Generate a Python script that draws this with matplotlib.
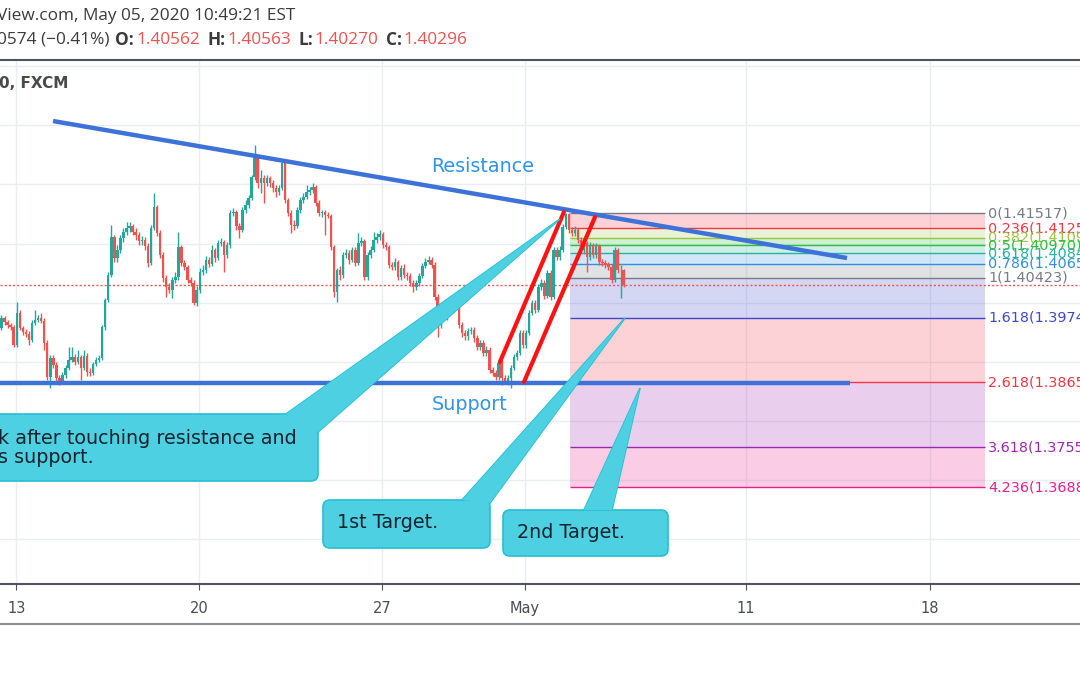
import matplotlib.pyplot as plt
import numpy as np
from matplotlib.patches import FancyBboxPatch, Polygon

# USDCAD, 2h candles (FXCM), 13 Apr - 05 May 2020
first_open = 1.3957
closes = [
    1.3974, 1.3967, 1.3962, 1.3959, 1.3929, 1.3983, 1.3957, 1.3950, 1.3947, 1.3937,
    1.3966, 1.3971, 1.3974, 1.3969, 1.3932, 1.3874, 1.3907, 1.3895, 1.3873, 1.3868,
    1.3878, 1.3890, 1.3903, 1.3908, 1.3900, 1.3908, 1.3890, 1.3910, 1.3883, 1.3881,
    1.3896, 1.3903, 1.3907, 1.3959, 1.4005, 1.4047, 1.4111, 1.4076, 1.4089, 1.4109,
    1.4120, 1.4126, 1.4130, 1.4120, 1.4114, 1.4104, 1.4106, 1.4096, 1.4067, 1.4126,
    1.4162, 1.4118, 1.4081, 1.4042, 1.4027, 1.4021, 1.4038, 1.4043, 1.4094, 1.4067,
    1.4060, 1.4038, 1.4033, 1.3999, 1.4021, 1.4052, 1.4055, 1.4072, 1.4066, 1.4089,
    1.4076, 1.4101, 1.4103, 1.4081, 1.4098, 1.4152, 1.4153, 1.4130, 1.4123, 1.4157,
    1.4165, 1.4177, 1.4213, 1.4245, 1.4202, 1.4211, 1.4202, 1.4211, 1.4202, 1.4194,
    1.4187, 1.4194, 1.4236, 1.4174, 1.4152, 1.4131, 1.4130, 1.4157, 1.4174, 1.4179,
    1.4187, 1.4191, 1.4196, 1.4169, 1.4152, 1.4153, 1.4148, 1.4147, 1.4094, 1.4018,
    1.4055, 1.4047, 1.4081, 1.4084, 1.4072, 1.4089, 1.4067, 1.4101, 1.4104, 1.4043,
    1.4081, 1.4089, 1.4106, 1.4111, 1.4116, 1.4098, 1.4094, 1.4064, 1.4060, 1.4069,
    1.4043, 1.4059, 1.4047, 1.4045, 1.4033, 1.4027, 1.4033, 1.4045, 1.4062, 1.4069,
    1.4072, 1.4064, 1.4010, 1.3962, 1.3993, 1.3988, 1.3999, 1.3984, 1.4001, 1.4005,
    1.3962, 1.3949, 1.3944, 1.3952, 1.3954, 1.3940, 1.3925, 1.3932, 1.3915, 1.3920,
    1.3886, 1.3881, 1.3874, 1.3898, 1.3873, 1.3866, 1.3873, 1.3890, 1.3908, 1.3915,
    1.3949, 1.3929, 1.3949, 1.3983, 1.3999, 1.3988, 1.4027, 1.4033, 1.4011, 1.4050,
    1.4010, 1.4089, 1.4077, 1.4089, 1.4128, 1.4150, 1.4123, 1.4118, 1.4123, 1.4106,
    1.4089, 1.4101, 1.4077, 1.4098, 1.4081, 1.4096, 1.4069, 1.4067, 1.4064, 1.4060,
    1.4038, 1.4089, 1.4055, 1.40562, 1.40296,
]
highs = [
    1.3979, 1.3978, 1.3971, 1.3966, 1.3962, 1.4001, 1.3988, 1.3961, 1.3956, 1.3952,
    1.3971, 1.3988, 1.3979, 1.3983, 1.3974, 1.3937, 1.3912, 1.3912, 1.3900, 1.3878,
    1.3883, 1.3895, 1.3925, 1.3925, 1.3913, 1.3920, 1.3912, 1.3920, 1.3915, 1.3890,
    1.3900, 1.3908, 1.3912, 1.3962, 1.4008, 1.4052, 1.4131, 1.4114, 1.4098, 1.4114,
    1.4126, 1.4137, 1.4137, 1.4133, 1.4126, 1.4120, 1.4113, 1.4111, 1.4101, 1.4131,
    1.4186, 1.4165, 1.4123, 1.4086, 1.4047, 1.4033, 1.4043, 1.4052, 1.4120, 1.4098,
    1.4072, 1.4064, 1.4043, 1.4038, 1.4028, 1.4059, 1.4064, 1.4079, 1.4077, 1.4098,
    1.4093, 1.4106, 1.4109, 1.4106, 1.4103, 1.4157, 1.4160, 1.4157, 1.4135, 1.4162,
    1.4174, 1.4182, 1.4216, 1.4267, 1.4250, 1.4224, 1.4216, 1.4216, 1.4214, 1.4208,
    1.4199, 1.4199, 1.4241, 1.4241, 1.4177, 1.4157, 1.4140, 1.4162, 1.4179, 1.4186,
    1.4199, 1.4196, 1.4202, 1.4199, 1.4174, 1.4157, 1.4157, 1.4153, 1.4150, 1.4098,
    1.4059, 1.4062, 1.4086, 1.4091, 1.4089, 1.4094, 1.4094, 1.4118, 1.4111, 1.4108,
    1.4086, 1.4096, 1.4120, 1.4118, 1.4123, 1.4120, 1.4103, 1.4098, 1.4069, 1.4076,
    1.4072, 1.4064, 1.4065, 1.4052, 1.4050, 1.4038, 1.4038, 1.4050, 1.4067, 1.4076,
    1.4079, 1.4077, 1.4069, 1.4015, 1.3999, 1.3998, 1.4005, 1.4005, 1.4006, 1.4011,
    1.4010, 1.3967, 1.3954, 1.3957, 1.3959, 1.3959, 1.3945, 1.3937, 1.3937, 1.3927,
    1.3925, 1.3891, 1.3886, 1.3903, 1.3903, 1.3878, 1.3878, 1.3895, 1.3913, 1.3920,
    1.3954, 1.3954, 1.3954, 1.3988, 1.4005, 1.4005, 1.4032, 1.4040, 1.4038, 1.4055,
    1.4055, 1.4094, 1.4094, 1.4096, 1.4133, 1.4151, 1.41517, 1.4128, 1.4130, 1.4126,
    1.4111, 1.4106, 1.4104, 1.4103, 1.4101, 1.4101, 1.4099, 1.4074, 1.4072, 1.4069,
    1.4065, 1.4094, 1.4093, 1.4064, 1.40563,
]
lows = [
    1.3954, 1.3962, 1.3957, 1.3954, 1.3925, 1.3925, 1.3954, 1.3945, 1.3942, 1.3928,
    1.3934, 1.3962, 1.3967, 1.3966, 1.3920, 1.3869, 1.3856, 1.3890, 1.3864, 1.3861,
    1.3863, 1.3873, 1.3886, 1.3900, 1.3895, 1.3896, 1.3869, 1.3886, 1.3876, 1.3876,
    1.3878, 1.3893, 1.3900, 1.3903, 1.3954, 1.4001, 1.4043, 1.4069, 1.4069, 1.4084,
    1.4103, 1.4114, 1.4120, 1.4114, 1.4106, 1.4098, 1.4098, 1.4089, 1.4060, 1.4064,
    1.4123, 1.4113, 1.4076, 1.4035, 1.4010, 1.4016, 1.4008, 1.4033, 1.4038, 1.4062,
    1.4055, 1.4033, 1.4028, 1.3996, 1.3994, 1.4016, 1.4047, 1.4050, 1.4060, 1.4062,
    1.4069, 1.4072, 1.4096, 1.4052, 1.4076, 1.4093, 1.4147, 1.4123, 1.4109, 1.4120,
    1.4152, 1.4160, 1.4174, 1.4208, 1.4194, 1.4186, 1.4169, 1.4197, 1.4196, 1.4187,
    1.4179, 1.4182, 1.4191, 1.4169, 1.4147, 1.4118, 1.4123, 1.4126, 1.4152, 1.4169,
    1.4175, 1.4182, 1.4186, 1.4164, 1.4147, 1.4145, 1.4114, 1.4143, 1.4089, 1.4010,
    1.4001, 1.4038, 1.4042, 1.4076, 1.4065, 1.4069, 1.4062, 1.4064, 1.4096, 1.4038,
    1.4038, 1.4076, 1.4086, 1.4101, 1.4106, 1.4093, 1.4089, 1.4059, 1.4055, 1.4055,
    1.4038, 1.4038, 1.4042, 1.4038, 1.4028, 1.4018, 1.4021, 1.4028, 1.4042, 1.4059,
    1.4065, 1.4059, 1.4005, 1.3942, 1.3957, 1.3982, 1.3971, 1.3979, 1.3982, 1.3996,
    1.3957, 1.3942, 1.3937, 1.3937, 1.3947, 1.3934, 1.3920, 1.3920, 1.3910, 1.3910,
    1.3881, 1.3876, 1.3869, 1.3869, 1.3861, 1.3863, 1.3861, 1.3856, 1.3886, 1.3903,
    1.3912, 1.3923, 1.3923, 1.3945, 1.3979, 1.3983, 1.3984, 1.4021, 1.4006, 1.4008,
    1.4005, 1.4006, 1.4072, 1.4072, 1.4086, 1.4125, 1.4118, 1.4113, 1.4113, 1.4101,
    1.4084, 1.4082, 1.4052, 1.4072, 1.4076, 1.4076, 1.4064, 1.4062, 1.4059, 1.4055,
    1.4033, 1.4035, 1.4050, 1.4008, 1.40270,
]

tick_labels = ["13", "20", "27", "May", "11", "18"]
tick_bars = [4.9, 64.8, 124.8, 171.6, 244.1, 304.4]
price_grid = [1.36, 1.37, 1.38, 1.39, 1.40, 1.41, 1.42, 1.43, 1.44]
last_close = 1.40296

# fib retracement drawn from the May 4 high down to 1.40423
fib_high = 1.41517
fib_low = 1.40423
fib_levels = [0, 0.236, 0.382, 0.5, 0.618, 0.786, 1, 1.618, 2.618, 3.618, 4.236]
fib_colors = ["#787b86", "#f23645", "#9bc53d", "#2fbf3a", "#26b59a", "#2f8fe0",
              "#787b86", "#3f48cc", "#f23645", "#9c27b0", "#e91e8c"]
fib_span = (186.4, 322.5)

# hand drawn lines (bar index, price)
resistance = ([16.9, 277.2], [1.43073, 1.40756])
support = ([-1.0, 278.2], [1.3864, 1.3864])
channel_a = ([163.4, 184.4], [1.38998, 1.41534])
channel_b = ([171.3, 194.6], [1.38659, 1.41450])

UP, DOWN = "#26a69a", "#ef5350"
W, H = 1080, 675

fig = plt.figure(figsize=(W / 100, H / 100), dpi=100)
ax = fig.add_axes([0, (H - 584) / H, 1, (584 - 61) / H])
ax.set_xlim(-0.49, 353.6)
ax.set_ylim(1.35244, 1.44088)

ax.set_yticks(price_grid)
ax.tick_params(axis="y", left=False, labelleft=False)
ax.set_xticks(tick_bars, tick_labels)
ax.tick_params(axis="x", length=4, color="#50535e", labelsize=10.5,
               labelcolor="#4a4d57", pad=8)
ax.grid(True, color="#eaeef4", lw=1, zorder=0)
ax.set_axisbelow(True)
for s in ["top", "left", "right"]:
    ax.spines[s].set_visible(False)
ax.spines["bottom"].set_color("#50535e")
ax.spines["bottom"].set_linewidth(1.5)

# fib bands + level lines
fx0, fx1 = fib_span
fib_prices = [fib_high - lv * (fib_high - fib_low) for lv in fib_levels]
for i in range(len(fib_levels) - 1):
    ax.fill_between([fx0, fx1], fib_prices[i], fib_prices[i + 1],
                    color=fib_colors[i + 1], alpha=0.22, lw=0, zorder=1)
for lv, p, col in zip(fib_levels, fib_prices, fib_colors):
    ax.hlines(p, fx0, fx1, color=col, lw=1, zorder=1.5)
    ax.text(fx1 + 1, p, f"{lv:g}({p:.5f})", color=col, fontsize=10.4,
            va="center", ha="left", zorder=5)

ax.axhline(last_close, color=DOWN, lw=1, ls=(0, (1.5, 1.5)), zorder=2)

# candles
x = np.arange(len(closes))
c = np.array(closes)
o = np.array([first_open] + closes[:-1])
h = np.maximum(np.array(highs), np.maximum(o, c))
l = np.minimum(np.array(lows), np.minimum(o, c))
col = np.where(c >= o, UP, DOWN)
ax.vlines(x, l, h, colors=col, lw=1.0, zorder=3)
ax.bar(x, np.maximum(np.abs(c - o), 0.00005), bottom=np.minimum(o, c),
       width=0.8, color=col, lw=0, zorder=3)

# trend lines
ax.plot(*resistance, color="#3d72d9", lw=3.2, solid_capstyle="butt", zorder=4)
ax.plot(*support, color="#3d72d9", lw=3.2, solid_capstyle="butt", zorder=4)
ax.plot(*channel_a, color="#ff1212", lw=3, solid_capstyle="round", zorder=4)
ax.plot(*channel_b, color="#ff1212", lw=3, solid_capstyle="round", zorder=4)

# overlay in pixel coordinates for header text and callouts
ov = fig.add_axes([0, 0, 1, 1])
ov.set_xlim(0, W)
ov.set_ylim(H, 0)
ov.axis("off")

ov.plot([0, W], [60, 60], color="#50535e", lw=1.5)
ov.plot([0, W], [624, 624], color="#8c8f99", lw=1.5)

hdr = dict(fontsize=12.4, family="Open Sans", va="center", ha="left")
ov.text(-3, 16, "View.com, May 05, 2020 10:49:21 EST", color="#3b3b3b", **hdr)

renderer = fig.canvas.get_renderer()
parts = [("0574 (\u22120.41%)", "#3b3b3b", "normal", 6),
         ("O:", "#3b3b3b", "bold", 2), ("1.40562", "#ef5350", "normal", 7),
         ("H:", "#3b3b3b", "bold", 2), ("1.40563", "#ef5350", "normal", 7),
         ("L:", "#3b3b3b", "bold", 2), ("1.40270", "#ef5350", "normal", 7),
         ("C:", "#3b3b3b", "bold", 2), ("1.40296", "#ef5350", "normal", 7)]
px = -3
for s, colr, wt, gap in parts:
    t = ov.text(px, 40, s, color=colr, fontweight=wt, **hdr)
    px += t.get_window_extent(renderer=renderer).width + gap

ov.text(-1, 83, "0, FXCM", color="#4a4a4a", fontsize=11, fontweight="bold",
        va="center", ha="left")

ov.text(483, 166, "Resistance", color="#2f95ec", fontsize=13.8, ha="center", va="center")
ov.text(470, 404, "Support", color="#2f95ec", fontsize=13.8, ha="center", va="center")


def callout(box, base, tip, lines, text_xy):
    fill, edge = "#4dd0e1", "#27bfd4"
    wedge = [base[0], tip, base[1]]
    ov.add_patch(Polygon(wedge, closed=True, fc=fill, ec=edge, lw=1.2, zorder=6))
    x0, y0, x1, y1 = box
    ov.add_patch(FancyBboxPatch((x0, y0), x1 - x0, y1 - y0,
                                boxstyle="round,pad=0,rounding_size=7",
                                fc=fill, ec=edge, lw=1.2, zorder=6))
    ov.add_patch(Polygon(wedge, closed=True, fc=fill, ec="none", zorder=6))
    ov.text(text_xy[0], text_xy[1], lines, color="#16232c", fontsize=13.8,
            va="center", ha="left", linespacing=1.0, zorder=7)


callout((-12, 414, 318, 481), [(286, 414), (318, 432)], (560, 219),
        "k after touching resistance and\ns support.", (-2, 448))
callout((323, 500, 490, 548), [(462, 500), (490, 503)], (625, 318),
        "1st Target.", (337, 523))
callout((503, 510, 668, 556), [(584, 510), (612, 510)], (640, 388),
        "2nd Target.", (517, 532))

fig.savefig("out.png", dpi=100)
